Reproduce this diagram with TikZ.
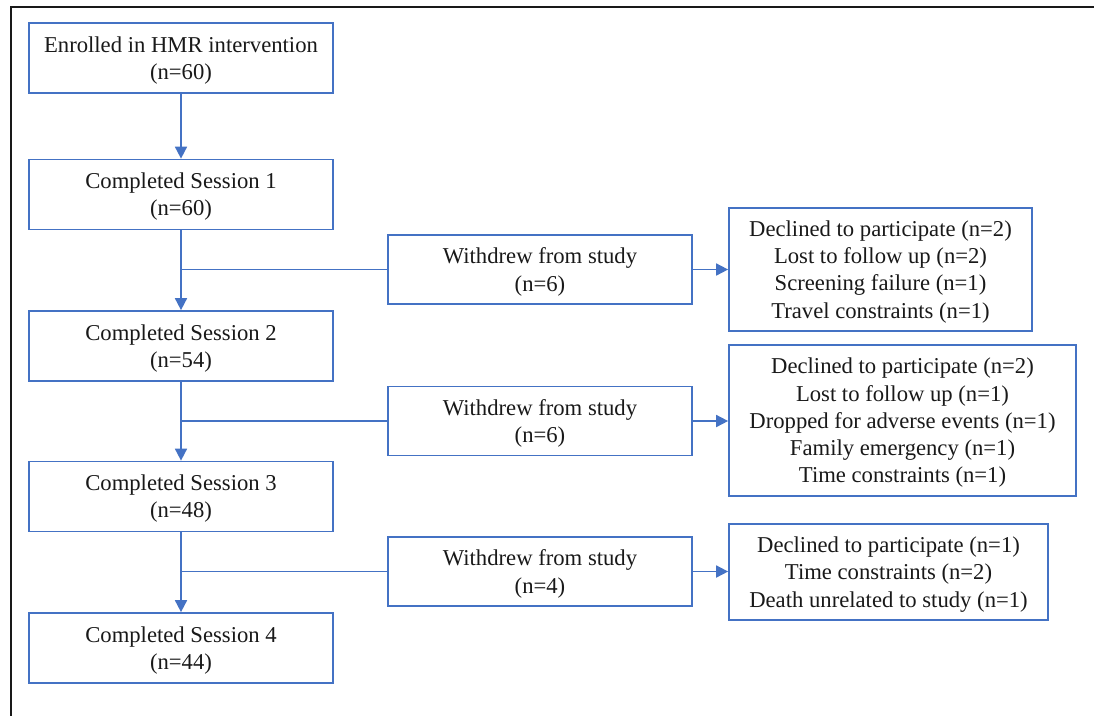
\documentclass[tikz,border=0pt]{standalone}
\usepackage{fontspec}
\setmainfont{Liberation Serif}
\usetikzlibrary{arrows.meta}
\definecolor{boxblue}{RGB}{68,114,196}
\definecolor{txt}{RGB}{25,25,25}
\tikzset{
  flowbox/.style={draw=boxblue, line width=1.3pt, fill=white, align=center, inner sep=0pt,
    text=txt, font=\fontsize{17}{20.4}\selectfont, text depth=-0.6pt},
  conn/.style={draw=boxblue, line width=1.3pt},
  arr/.style={conn, -{Triangle[length=9pt,width=9pt]}}
}
\begin{document}
\begin{tikzpicture}[x=0.75pt,y=-0.75pt]
\useasboundingbox (0,0) rectangle (1094,715);
\fill[white] (0,0) rectangle (1094,715);
\draw[line width=2pt, black!90] (11,716) -- (11,7) -- (1095,7);

\node[flowbox, minimum width=304*0.75pt, minimum height=70*0.75pt] (enr) at (181,58)
  {Enrolled in HMR intervention\\(n=60)};
\node[flowbox, minimum width=304*0.75pt, minimum height=70*0.75pt] (s1) at (181,194.5)
  {Completed Session 1\\(n=60)};
\node[flowbox, minimum width=304*0.75pt, minimum height=70*0.75pt] (s2) at (181,346)
  {Completed Session 2\\(n=54)};
\node[flowbox, minimum width=304*0.75pt, minimum height=70*0.75pt] (s3) at (181,496.5)
  {Completed Session 3\\(n=48)};
\node[flowbox, minimum width=304*0.75pt, minimum height=70*0.75pt] (s4) at (181,648)
  {Completed Session 4\\(n=44)};

\node[flowbox, minimum width=304*0.75pt, minimum height=69*0.75pt] (w1) at (540,269.5)
  {Withdrew from study\\(n=6)};
\node[flowbox, minimum width=304*0.75pt, minimum height=69*0.75pt] (w2) at (540,421)
  {Withdrew from study\\(n=6)};
\node[flowbox, minimum width=304*0.75pt, minimum height=69*0.75pt] (w3) at (540,571.5)
  {Withdrew from study\\(n=4)};

\node[flowbox, minimum width=303*0.75pt, minimum height=123*0.75pt] (r1) at (880.5,269.5)
  {Declined to participate (n=2)\\Lost to follow up (n=2)\\Screening failure (n=1)\\Travel constraints (n=1)};
\node[flowbox, minimum width=347*0.75pt, minimum height=151*0.75pt] (r2) at (902.5,420.5)
  {Declined to participate (n=2)\\Lost to follow up (n=1)\\Dropped for adverse events (n=1)\\Family emergency (n=1)\\Time constraints (n=1)};
\node[flowbox, minimum width=319*0.75pt, minimum height=96*0.75pt] (r3) at (888.5,572)
  {Declined to participate (n=1)\\Time constraints (n=2)\\Death unrelated to study (n=1)};

\draw[arr] (enr) -- (s1);
\draw[arr] (s1) -- (s2);
\draw[arr] (s2) -- (s3);
\draw[arr] (s3) -- (s4);

\coordinate (j1) at (s1.south |- w1.west);
\coordinate (j2) at (s2.south |- w2.west);
\coordinate (j3) at (s3.south |- w3.west);
\draw[conn] (j1) -- (w1.west);
\draw[conn] (j2) -- (w2.west);
\draw[conn] (j3) -- (w3.west);

\draw[arr] (w1.east) -- (w1.east -| r1.west);
\draw[arr] (w2.east) -- (w2.east -| r2.west);
\draw[arr] (w3.east) -- (w3.east -| r3.west);
\end{tikzpicture}
\end{document}
